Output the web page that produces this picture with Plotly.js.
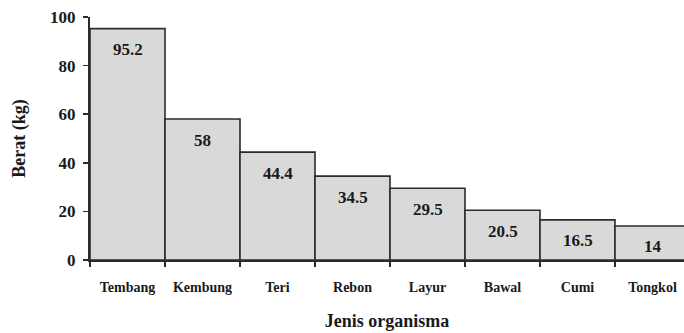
<!DOCTYPE html>
<html>
<head>
<meta charset="utf-8">
<script src="https://cdn.plot.ly/plotly-3.0.1.min.js"></script>
<style>
  html, body { margin: 0; padding: 0; background: #fff; }
  #chart { width: 684px; height: 333px; }
</style>
</head>
<body>
<div id="chart"></div>
<script>
// Catch weight per organism type
const organisms = ["Tembang", "Kembung", "Teri", "Rebon", "Layur", "Bawal", "Cumi", "Tongkol"];
const weights = [95.2, 58, 44.4, 34.5, 29.5, 20.5, 16.5, 14];
const yTicks = [0, 20, 40, 60, 80, 100];

const serif = "Liberation Serif";

const bars = {
  type: "bar",
  x: organisms,
  y: weights,
  width: 1,
  marker: { color: "#d9d9d9", line: { color: "#2b2b2b", width: 1.6 } },
  hoverinfo: "skip"
};

const bold = s => "<b>" + s + "</b>";

// Value labels sit inside each bar, just below its top edge
const valueLabels = organisms.map((name, i) => ({
  x: name,
  y: weights[i],
  text: bold(weights[i]),
  showarrow: false,
  yanchor: "middle",
  yshift: -21,
  font: { family: serif, size: 17, color: "#1a1a1a" }
}));

const layout = {
  width: 684,
  height: 333,
  margin: { l: 90, r: 0, t: 17, b: 73 },
  paper_bgcolor: "#ffffff",
  plot_bgcolor: "#ffffff",
  showlegend: false,
  bargap: 0,
  font: { family: serif, color: "#1a1a1a" },
  xaxis: {
    type: "category",
    range: [-0.5, 7.42],
    tickson: "boundaries",
    ticks: "outside",
    ticklen: 5,
    tickwidth: 1.5,
    tickcolor: "#2b2b2b",
    showline: true,
    linecolor: "#2b2b2b",
    linewidth: 2,
    showgrid: false,
    zeroline: false,
    tickvals: organisms,
    ticktext: organisms.map(bold),
    ticklabelstandoff: 13,
    tickfont: { family: serif, size: 14, color: "#1a1a1a" },
    title: { text: bold("Jenis organisma"), font: { family: serif, size: 18, color: "#1a1a1a" }, standoff: 21 }
  },
  yaxis: {
    range: [0, 100],
    tickvals: yTicks,
    ticktext: yTicks.map(bold),
    ticks: "outside",
    ticklen: 5,
    tickwidth: 1.5,
    tickcolor: "#2b2b2b",
    showline: true,
    linecolor: "#2b2b2b",
    linewidth: 2,
    showgrid: false,
    zeroline: false,
    ticklabelstandoff: 4,
    tickfont: { family: serif, size: 17, color: "#1a1a1a" },
    title: { text: bold("Berat (kg)"), font: { family: serif, size: 18, color: "#1a1a1a" }, standoff: 20 }
  },
  annotations: valueLabels
};

Plotly.newPlot("chart", [bars], layout, { staticPlot: true, displayModeBar: false });
</script>
</body>
</html>
